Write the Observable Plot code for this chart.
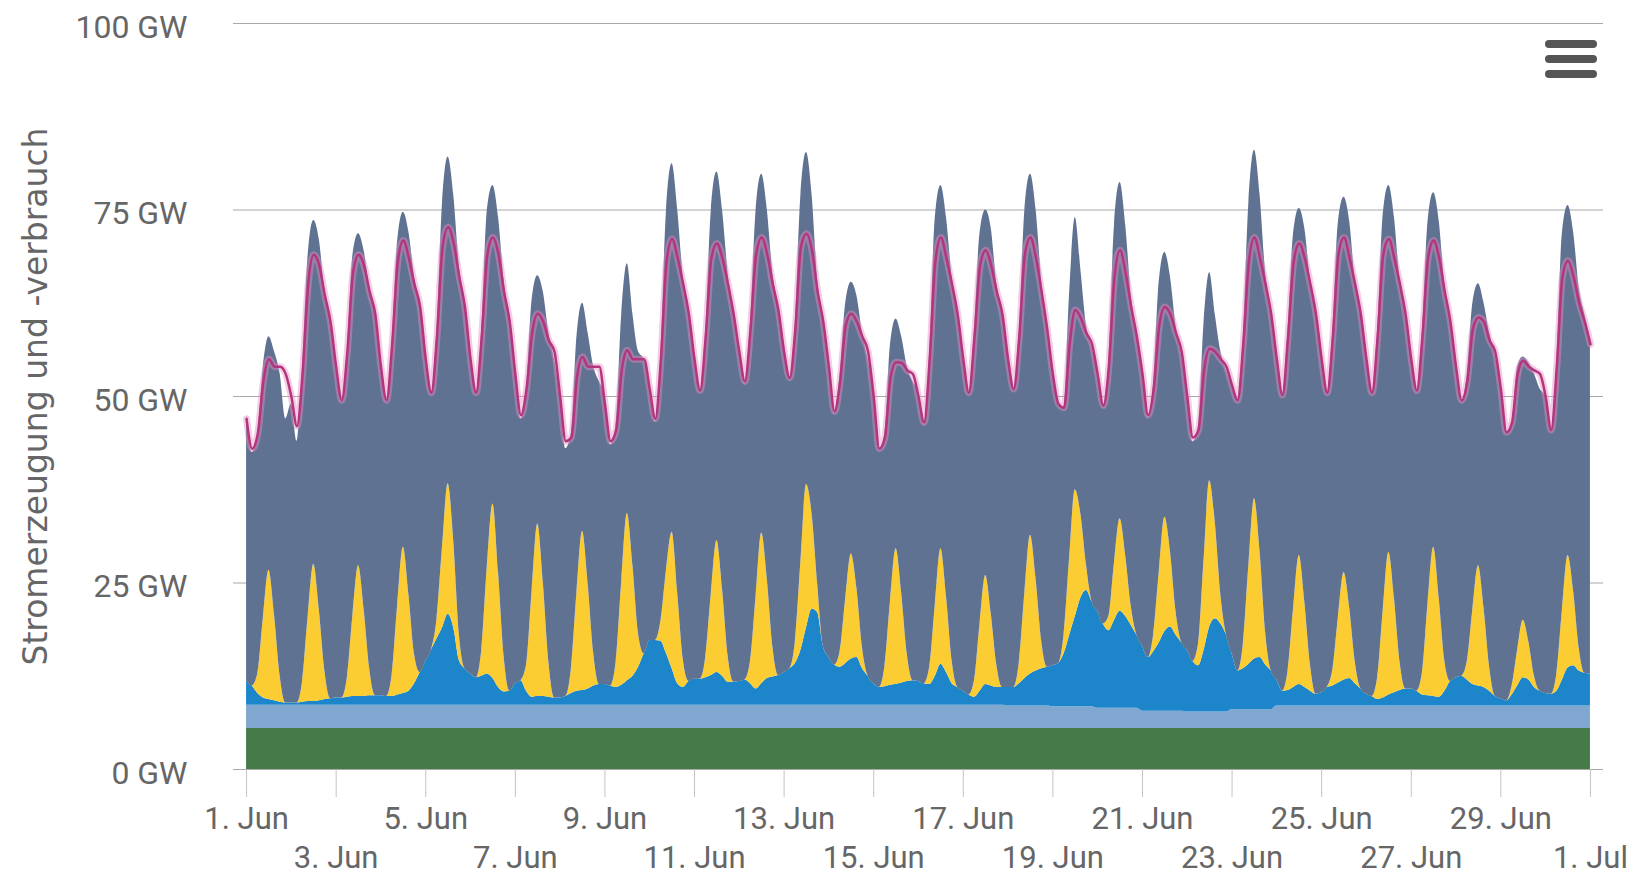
<!DOCTYPE html>
<html>
<head>
<meta charset="utf-8">
<script src="https://cdn.jsdelivr.net/npm/d3@7"></script>
<script src="https://cdn.jsdelivr.net/npm/@observablehq/plot@0.6"></script>
<style>
  body { margin: 0; background: #fff; }
  #chart { position: relative; width: 1633px; height: 875px; }
  .menu { position: absolute; left: 1545px; top: 40px; width: 52px; }
  .menu div { height: 8px; background: #555; border-radius: 4px; margin-bottom: 7px; }
</style>
</head>
<body>
<div id="chart"><div class="menu"><div></div><div></div><div></div></div></div>
<script>
// ---- Data: June 2014, 3-hour steps (00,03,06,09,12,15,18,21 h) per day, last value = 1 Jul 00:00 ----
const sources = ["Biomasse", "Wasserkraft", "Wind", "Solar", "Konventionell"];
const colors  = ["#457a49", "#7fa7d0", "#1d86cb", "#fbcd32", "#5f7292"];

// daily values (GW)
const biomass = [5.5,5.5,5.5,5.5,5.5,5.5,5.5,5.5,5.5,5.5,5.5,5.5,5.5,5.5,5.5,
                 5.5,5.5,5.5,5.5,5.5,5.5,5.5,5.5,5.5,5.5,5.5,5.5,5.5,5.5,5.5];
const hydro   = [3.1,3.1,3.1,3.1,3.1,3.1,3.1,3.1,3.1,3.1,3.1,3.1,3.1,3.1,3.1,
                 3.1,3.1,3.0,2.9,2.7,2.3,2.2,2.5,3.0,3.0,3.0,3.0,3.0,3.0,3.0];

const wind = [
  3.3,2.6,1.6,1.0,0.8,0.6,0.4,0.3,
  0.3,0.3,0.4,0.5,0.5,0.6,0.8,0.9,
  1.0,1.0,1.1,1.2,1.2,1.2,1.3,1.3,
  1.3,1.2,1.2,1.4,1.6,1.9,2.9,4.4,
  5.9,7.4,8.9,10.4,12.2,10.4,6.0,4.9,
  4.2,3.7,3.9,4.2,3.6,2.4,1.8,1.9,
  2.9,3.3,1.9,1.1,1.2,1.2,1.1,1.0,
  1.0,1.2,1.6,1.9,2.0,2.2,2.6,2.8,
  2.8,2.6,2.4,2.7,3.3,3.9,5.1,6.9,
  8.7,8.7,8.6,6.9,4.9,2.9,2.4,3.2,
  3.5,3.5,3.7,4.0,4.4,3.9,3.1,3.1,
  3.2,3.4,2.9,2.2,2.9,3.6,3.8,4.0,
  4.4,4.9,5.6,7.4,10.4,12.9,12.4,7.9,
  6.4,5.4,5.1,5.6,6.2,6.4,4.9,3.9,
  2.9,2.4,2.5,2.7,2.8,3.0,3.2,3.3,
  3.2,2.9,2.8,3.9,5.5,4.4,2.9,2.4,
  1.9,1.4,1.1,1.9,2.8,2.6,2.4,2.4,
  2.5,2.5,3.0,3.7,4.3,4.7,5.0,5.2,
  5.5,5.8,7.1,9.6,12.1,14.6,15.6,14.1,
  13.0,11.3,10.4,11.8,13.0,12.3,11.1,9.8,
  8.7,7.2,8.0,9.2,10.7,11.3,10.2,9.2,
  8.3,6.8,6.2,8.3,11.4,12.5,11.8,10.3,
  7.5,5.2,5.5,6.1,6.8,7.0,6.0,5.2,
  3.5,2.0,2.1,2.5,2.9,2.5,2.0,1.6,
  1.8,2.5,2.7,3.1,3.5,3.7,3.0,2.3,
  1.6,1.3,0.9,1.1,1.5,1.8,2.1,2.3,
  2.3,2.0,1.5,1.4,1.3,1.2,2.0,3.3,
  3.8,4.0,3.5,2.9,2.7,2.5,2.0,1.3,
  1.0,0.7,1.5,2.7,3.8,3.5,2.5,2.0,
  1.7,1.6,2.0,3.5,5.1,5.4,4.7,4.4,
  4.3
];

const solar = [
  0,0,2.6,10.7,17.3,11.4,3.5,0,
  0,0,2.8,11.4,18.4,12.1,3.7,0,
  0,0,2.6,10.9,17.5,11.6,3.5,0,
  0,0,2.9,12.2,19.6,12.9,3.9,0,
  0,0,2.6,10.9,17.5,11.6,3.5,0,
  0,0,3.5,14.5,23.4,15.4,4.7,0,
  0,0,3.5,14.3,23.1,15.2,4.6,0,
  0,0,3.2,13.2,21.3,14.1,4.3,0,
  0,0,3.4,13.9,22.4,14.8,4.5,0,
  0,0,2.7,11.3,18.3,12.1,3.7,0,
  0,0,2.7,11.0,17.7,11.7,3.5,0,
  0,0,3.0,12.5,20.2,13.3,4.0,0,
  0,0,2.9,11.9,19.2,12.7,3.8,0,
  0,0,2.1,8.7,14.1,9.3,2.8,0,
  0,0,2.7,11.3,18.2,12.0,3.6,0,
  0,0,2.3,9.6,15.5,10.2,3.1,0,
  0,0,2.2,9.1,14.6,9.6,2.9,0,
  0,0,2.8,11.5,18.6,12.3,3.7,0,
  0,0,2.6,10.5,17.0,11.2,3.4,0,
  0,0,1.9,7.7,12.4,8.2,2.5,0,
  0,0,2.3,9.5,15.3,10.1,3.1,0,
  0,0,2.9,12.2,19.6,12.9,3.9,0,
  0,0,3.2,13.3,21.5,14.2,4.3,0,
  0,0,2.6,10.7,17.3,11.4,3.5,0,
  0,0,2.2,8.9,14.4,9.5,2.9,0,
  0,0,2.9,11.8,19.1,12.6,3.8,0,
  0,0,3.0,12.4,20.0,13.2,4.0,0,
  0,0,2.4,10.0,16.1,10.6,3.2,0,
  0,0,1.2,4.8,7.7,5.1,1.5,0,
  0,0,2.3,9.4,15.1,10.0,3.0,0,
  0
];

// total generation (top of the stack)
const total = [
  47.5,42.5,45,54,58,56,53,47,
  49,44,54,69,73.6,71,64,60,
  54,49.3,56,69,71.8,69.5,64.5,61,
  54,49.3,57,71,74.7,72,66,62,
  55.5,50.4,59,76,82.1,77,67.5,62.5,
  55.5,50.4,59,75,78.3,74,65.5,60.5,
  53.5,47,51,63,66.2,64,58.5,55,
  50,43,45,58,62.5,58.5,54,52,
  50,43.5,46,61,67.8,61,56,55,
  52,46.6,56,75,81.2,75,66,61.5,
  55.5,50.6,59,75,80.1,75,66.5,61.5,
  56.5,51.7,60,75,79.8,75,66.5,62,
  57,52.4,60,77,82.7,77,65.5,60.5,
  54.5,47.7,53,62.5,65.3,63.5,58.5,55,
  50.5,42.8,45,57,60.4,58,54,52,
  50.5,46.2,56,74,78.3,74,66,61.5,
  55.5,50.4,59,72,75,72.5,65,61.5,
  55.5,50.8,59,75,79.8,75,65.5,59.5,
  53.5,49,48.5,64,74,67,59.5,56.5,
  53.5,48.6,55,73,78.7,73,63.5,58,
  53.5,47.2,52,65.5,69.3,66,59.5,55.5,
  50.5,43.9,46,60,66.6,61,56,53.5,
  51.5,49.5,58,76,83,77,66.5,61.5,
  55.5,50.1,59,72,75.2,72.5,65.5,61.5,
  55.5,50.4,59,73.5,76.7,73.5,65.5,61.5,
  55.5,50.4,59,74.5,78.3,74,65.5,61.5,
  55.5,50.6,59,73.5,77.3,73.5,65,60.5,
  54.5,49.3,53,62.5,65.1,62.5,58.5,55.5,
  51.5,45,46.5,54,55.3,54.5,53,51,
  50,45.4,55,72,75.6,72,64.5,61,
  57.5
];

// load (Stromverbrauch)
const load = [
  47,43,45,52,55,54,54,53,
  50,46,53,65,69,67.5,63.5,60,
  54,49.5,56,66.5,69,67.5,64,61,
  54,49.5,57,68,70.9,68.5,65,62,
  55,50.5,58,70,72.7,70.5,66,62,
  55,50.5,58,69,71.3,69,64,60,
  53,47.5,51,58.5,61.1,60,57.5,56,
  50,44,44.5,52.5,55.3,54,54,54,
  49,44,45.5,53.5,56.2,55,55,55,
  51,47,55,68,71.1,68.5,65,61,
  55,50.8,58,68.5,70.5,68.5,65,61,
  56,52,59,69,71.3,69,65,61.5,
  56,52.5,59,70,71.8,69.5,64,60,
  54,48,52,59.5,61.1,60,58,56,
  50,43,44.5,52.5,54.6,54.5,53.5,53,
  50,46.5,55,68,71.3,68.5,65,61,
  55,50.5,58,67.5,69.6,67.5,64,61,
  55,51,58,69,71.3,68.5,64,59,
  53,49,48.5,57,61.6,60.5,58.5,57,
  53,48.8,54,66,69.6,66.5,62,58,
  53,47.5,51,59.5,62,61,58.5,56,
  50,44.5,45.5,53.5,56.4,56,55,54,
  51.5,49.5,57,68,71.3,68.5,65,61,
  55,50.2,58,68,70.5,68.5,65,61,
  55,50.5,58,69,71.3,68.5,65,61,
  55,50.5,58,69,71.1,68.5,65,61,
  55,50.8,58,68.5,70.9,68.5,64,60,
  54,49.5,52,59,60.6,60,57.5,56,
  51,45.2,46.5,53,54.8,54,53.5,53,
  50,45.5,54,66,68.2,66,62.5,60,
  57
];

// x tick dates and labels
const tickDays = [[5,1],[5,3],[5,5],[5,7],[5,9],[5,11],[5,13],[5,15],[5,17],[5,19],[5,21],[5,23],[5,25],[5,27],[5,29],[6,1]];
const monthNames = ["Jan","Feb","Mär","Apr","Mai","Jun","Jul","Aug","Sep","Okt","Nov","Dez"];
const yTicks = [0, 25, 50, 75, 100];
const yTitle = "Stromerzeugung und -verbrauch";

// ---- Build tables ----
const start = Date.UTC(2014, 5, 1);
const step = 3 * 3600e3;
const stackRows = [];
const loadRows = [];
for (let i = 0; i < total.length; i++) {
  const day = Math.min(Math.floor(i / 8), 29);
  const date = new Date(start + i * step);
  const b = biomass[day], h = hydro[day], w = wind[i], s = solar[i];
  const conv = Math.max(0, total[i] - b - h - w - s);
  const vals = [b, h, w, s, conv];
  sources.forEach((src, k) => stackRows.push({date, source: src, value: vals[k]}));
  loadRows.push({date, value: load[i]});
}

const ticks = tickDays.map(([m, d]) => new Date(Date.UTC(2014, m, d)));
const row1 = ticks.filter((_, i) => i % 2 === 0);
const row2 = ticks.filter((_, i) => i % 2 === 1);
const fmt = d => `${d.getUTCDate()}. ${monthNames[d.getUTCMonth()]}`;

const chart = Plot.plot({
  width: 1633,
  height: 875,
  marginTop: 23,
  marginBottom: 106,
  marginLeft: 233,
  marginRight: 30,
  x: {type: "utc", domain: [new Date(Date.UTC(2014, 4, 31, 17)), new Date(Date.UTC(2014, 6, 1, 7))]},
  y: {domain: [0, 100]},
  color: {domain: sources, range: colors},
  style: {fontFamily: "Roboto, sans-serif", fontSize: "31px", color: "#666", background: "#fff", overflow: "visible"},
  marks: [
    Plot.ruleY(yTicks, {stroke: "#a8a8a8", strokeWidth: 1.2}),
    Plot.areaY(stackRows, {x: "date", y: "value", fill: "source", z: "source", order: sources, curve: "monotone-x"}),
    Plot.line(loadRows, {x: "date", y: "value", stroke: "#e68fc0", strokeWidth: 7, strokeOpacity: 0.45, curve: "monotone-x"}),
    Plot.line(loadRows, {x: "date", y: "value", stroke: "#b5347e", strokeWidth: 2.5, curve: "monotone-x"}),
    Plot.axisY({ticks: yTicks, tickSize: 0, tickPadding: 46, dy: 4, tickFormat: d => `${d} GW`, label: null, fill: "#666", fontSize: 32}),
    Plot.axisX({ticks, tickSize: 28, tickFormat: () => "", stroke: "#c4c4c4", label: null}),
    Plot.axisX({ticks: row1, tickSize: 0, tickPadding: 37, tickFormat: fmt, label: null, fill: "#666"}),
    Plot.axisX({ticks: row2, tickSize: 0, tickPadding: 76, tickFormat: fmt, label: null, fill: "#666"}),
    Plot.text([yTitle], {frameAnchor: "left", rotate: -90, dx: -197, textAnchor: "middle", lineAnchor: "middle", fontSize: 33, fontFamily: "DejaVu Sans, sans-serif", fill: "#666"})
  ]
});
document.getElementById("chart").prepend(chart);
</script>
</body>
</html>
